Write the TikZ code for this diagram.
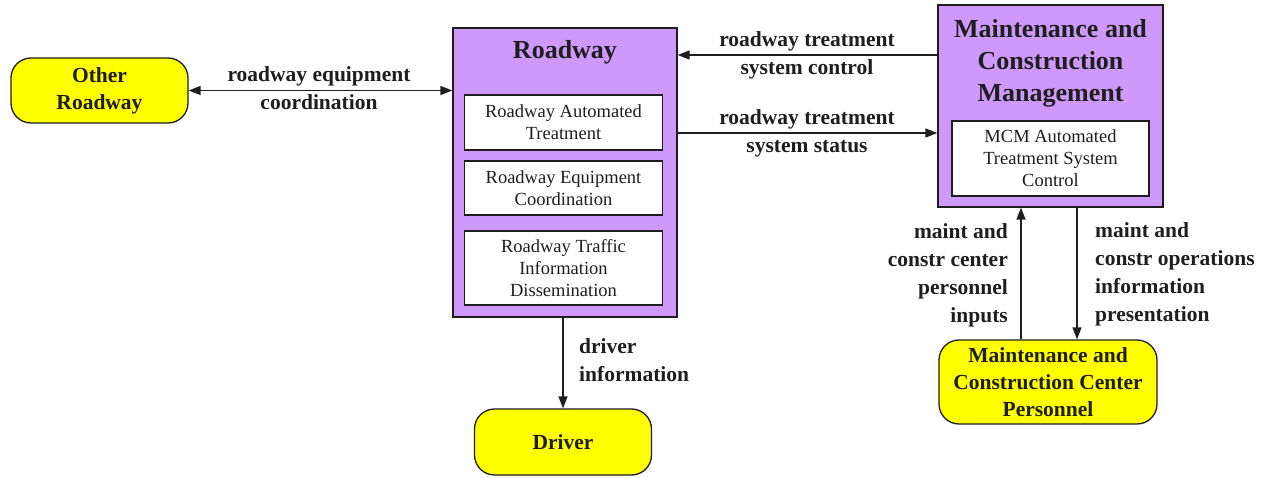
\documentclass[tikz,border=0pt]{standalone}
\usepackage{fontspec}
\setmainfont{Liberation Serif}
\usepackage{tikz}
\usetikzlibrary{
  arrows.meta,
  positioning,
}
\definecolor{mcsViolet}{RGB}{206, 153, 250}
\definecolor{mcsYellow}{RGB}{255, 255,   0}
\definecolor{mcsInk}   {RGB}{ 30,  30,  30}

\begin{document}
\begin{tikzpicture}[
  x=1pt, y=-1pt,
  >={Triangle[length=12pt, width=9pt]},
  term/.style  ={draw=mcsInk, line width=1.3pt, rounded corners=20pt,
                 fill=mcsYellow, text=mcsInk, align=center,
                 font=\fontsize{21.5}{27}\selectfont\bfseries},
  subsys/.style={draw=mcsInk, line width=1.3pt, fill=mcsViolet},
  stitle/.style={text=mcsInk, align=center,
                 font=\fontsize{26}{32}\selectfont\bfseries},
  fnbox/.style ={draw=mcsInk, line width=1.2pt, fill=white, text=mcsInk,
                 align=center, minimum width=198pt,
                 font=\fontsize{18.5}{22}\selectfont},
  flow/.style  ={->, line width=1.4pt, color=mcsInk},
  flowlbl/.style={text=mcsInk, align=center, inner sep=0pt,
                 font=\fontsize{21.5}{28}\selectfont\bfseries},
]
  \useasboundingbox (0,0) rectangle (1270,478);

  % Terminators
  \node[term, minimum width=177pt, minimum height=65pt]
    (oth) at (99.5, 90.5) {Other\\Roadway};
  \node[term, minimum width=177pt, minimum height=66pt]
    (drv) at (563, 442) {Driver};
  \node[term, minimum width=218pt, minimum height=84pt]
    (mcc) at (1048, 382) {Maintenance and\\Construction Center\\Personnel};

  % Roadway subsystem with its functional objects
  \node[subsys, minimum width=224pt, minimum height=289pt]
    (rw) at (565, 172.5) {};
  \node[stitle] (rwt) at (565, 52) {Roadway};
  \node[fnbox, minimum height=55pt] (rwa) at (563.5, 122.5)
    {Roadway Automated\\Treatment};
  \node[fnbox, minimum height=54pt] (rwe) at (563.5, 188)
    {Roadway Equipment\\Coordination};
  \node[fnbox, minimum height=74pt] (rwd) at (563.5, 268)
    {Roadway Traffic\\Information\\Dissemination};

  % Maintenance and Construction Management subsystem
  \node[subsys, minimum width=225pt, minimum height=202pt]
    (mcm) at (1050.5, 106) {};
  \node[stitle] (mcmt) at (1050.5, 63)
    {Maintenance and\\Construction\\Management};
  \node[fnbox, minimum width=197pt, minimum height=75pt]
    (mcma) at (1050.5, 158.5) {MCM Automated\\Treatment System\\Control};

  % Flows between Roadway and its neighbours
  \node[flowlbl] (feq) at (319, 88) {roadway equipment\\coordination};
  \draw[flow, <->] (oth.east) -- (oth.east -| rw.west);

  \node[flowlbl] (fctl) at (807, 55) {roadway treatment\\system control};
  \draw[flow] (mcm.west |- fctl) -- (rw.east |- fctl);

  \node[flowlbl] (fsts) at (807, 133) {roadway treatment\\system status};
  \draw[flow] (rw.east |- fsts) -- (mcm.west |- fsts);

  \node[flowlbl, align=left, anchor=west] (fdrv) at (579, 360)
    {driver\\information};
  \draw[flow] (drv.north |- rw.south) -- (drv.north);

  % Flows between MCM and its personnel
  \coordinate (upx) at (1021, 0);
  \coordinate (dnx) at (1077, 0);
  \node[flowlbl, align=right, anchor=east] (fin) at (1008, 275)
    {maint and\\constr center\\personnel\\inputs};
  \draw[flow] (mcc.north -| upx) -- (mcm.south -| upx);

  \node[flowlbl, align=left, anchor=west] (fout) at (1095, 274)
    {maint and\\constr operations\\information\\presentation};
  \draw[flow] (mcm.south -| dnx) -- (mcc.north -| dnx);
\end{tikzpicture}
\end{document}
